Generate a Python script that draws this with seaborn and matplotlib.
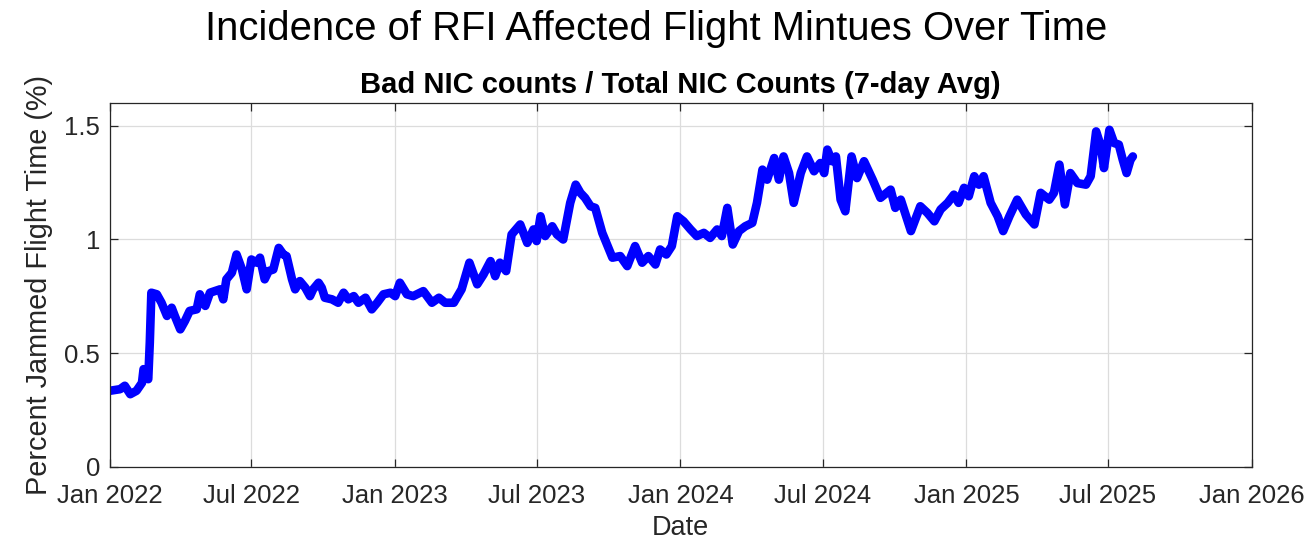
import pandas as pd
import numpy as np
import matplotlib
matplotlib.use('Agg')
import matplotlib.pyplot as plt
import matplotlib.dates as mdates
import seaborn as sns

# values (days counted from 2022-01-01, percent)
start_date = '2022-01-01'
days_2022 = [0, 13, 19, 26, 34, 41, 43, 49, 51, 53, 60, 66, 73, 79, 83, 90, 96, 102, 111, 115,
             122, 128, 134, 141, 145, 149, 156, 162, 169, 175, 181, 188, 192, 198, 203, 209, 216, 222, 226, 233,
             237, 243, 250, 256, 260, 267, 271, 275, 284, 292, 299, 305, 312, 318, 327, 335, 342, 350, 359, 365]
pct_2022 = [0.335, 0.342, 0.357, 0.32, 0.335, 0.37, 0.43, 0.386, 0.547, 0.766,
            0.759, 0.722, 0.664, 0.70, 0.664, 0.605, 0.642, 0.686, 0.693, 0.759,
            0.708, 0.766, 0.773, 0.781, 0.737, 0.825, 0.854, 0.934, 0.868, 0.781,
            0.912, 0.898, 0.92, 0.825, 0.861, 0.868, 0.963, 0.934, 0.927, 0.825,
            0.781, 0.817, 0.788, 0.751, 0.781, 0.81, 0.788, 0.744, 0.737, 0.722,
            0.766, 0.737, 0.751, 0.722, 0.744, 0.693, 0.722, 0.759, 0.766, 0.751]

days_2023 = [371, 380, 388, 401, 412, 421, 429, 440, 450, 460, 470, 478, 487, 493, 499, 507, 514, 525, 534, 542,
             546, 551, 557, 566, 572, 580, 589, 596, 602, 608, 615, 621, 630, 643, 653, 662, 672, 681, 689, 698,
             704, 712, 719, 726]
pct_2023 = [0.81, 0.759, 0.751, 0.773, 0.722, 0.744, 0.722, 0.722, 0.781, 0.898,
            0.803, 0.846, 0.905, 0.839, 0.898, 0.861, 1.022, 1.066, 0.985, 1.044,
            0.993, 1.102, 1.015, 1.058, 1.022, 1.0, 1.161, 1.241, 1.205, 1.183,
            1.146, 1.139, 1.029, 0.92, 0.927, 0.883, 0.971, 0.898, 0.927, 0.89,
            0.956, 0.934, 0.971, 1.102]

days_2024 = [734, 743, 751, 760, 768, 777, 783, 790, 797, 805, 813, 822, 828, 835, 841, 850, 856, 862, 869, 875,
             884, 892, 901, 909, 914, 918, 924, 929, 935, 941, 949, 956, 965, 976, 986, 999, 1005, 1012, 1025, 1037,
             1046, 1055]
pct_2024 = [1.08, 1.044, 1.015, 1.029, 1.007, 1.044, 1.015, 1.139, 0.978, 1.037,
            1.058, 1.073, 1.161, 1.307, 1.263, 1.358, 1.263, 1.365, 1.292, 1.161,
            1.292, 1.365, 1.3, 1.336, 1.292, 1.395, 1.344, 1.365, 1.175, 1.124,
            1.365, 1.27, 1.344, 1.263, 1.183, 1.219, 1.139, 1.175, 1.037, 1.146,
            1.117, 1.08]

days_2025 = [1063, 1072, 1080, 1086, 1093, 1099, 1106, 1112, 1118, 1127, 1136, 1143, 1151, 1161, 1172, 1183,
             1191, 1202, 1208, 1215, 1222, 1229, 1238, 1249, 1255, 1262, 1268, 1272, 1279, 1285, 1291, 1296,
             1301, 1306, 1309]
pct_2025 = [1.132, 1.161, 1.197, 1.161, 1.227, 1.19, 1.278, 1.241, 1.278, 1.161,
            1.102, 1.037, 1.102, 1.175, 1.11, 1.066, 1.205, 1.175, 1.205, 1.329,
            1.154, 1.292, 1.248, 1.241, 1.278, 1.475, 1.41, 1.314, 1.482, 1.424,
            1.417, 1.351, 1.292, 1.351, 1.365]

days = days_2022 + days_2023 + days_2024 + days_2025
pct = pct_2022 + pct_2023 + pct_2024 + pct_2025

df = pd.DataFrame({
    'date': pd.Timestamp(start_date) + pd.to_timedelta(days, unit='D'),
    'pct': pct,
})

sns.set_style('white')
plt.rcParams['font.family'] = ['Liberation Sans', 'DejaVu Sans']

dark = '#262626'
fig, ax = plt.subplots(figsize=(13.12, 5.42), dpi=100)
fig.subplots_adjust(left=0.0838, right=0.954, bottom=0.1384, top=0.81)

sns.lineplot(data=df, x='date', y='pct', ax=ax, color=(0, 0, 1), linewidth=6.2,
             solid_joinstyle='round', solid_capstyle='round')

ax.set_xlim(pd.Timestamp('2022-01-01'), pd.Timestamp('2026-01-01'))
ax.set_ylim(0, 1.6)
ax.set_yticks([0, 0.5, 1, 1.5])
ax.set_yticklabels(['0', '0.5', '1', '1.5'])
ax.xaxis.set_major_locator(mdates.MonthLocator(bymonth=[1, 7]))
ax.xaxis.set_major_formatter(mdates.DateFormatter('%b %Y'))

ax.grid(True, color='#dcdcdc', linewidth=0.9)
ax.set_axisbelow(True)
for sp in ax.spines.values():
    sp.set_visible(True)
    sp.set_color(dark)
    sp.set_linewidth(0.9)
ax.tick_params(direction='in', length=6, width=0.9, colors=dark, labelsize=18.5,
               top=True, right=True, bottom=True, left=True)
ax.tick_params(axis='x', pad=12)
ax.tick_params(axis='y', pad=7)

ax.set_xlabel('Date', fontsize=19.5, color=dark, labelpad=5)
ax.set_ylabel('Percent Jammed Flight Time (%)', fontsize=20.8, color=dark, labelpad=8)
ax.set_title('Bad NIC counts / Total NIC Counts (7-day Avg)', fontsize=21, fontweight='bold',
             color='black', pad=7)
fig.suptitle('Incidence of RFI Affected Flight Mintues Over Time', fontsize=28.8, y=0.946,
             va='center', color='black')

plt.savefig('out.png', dpi=100)
